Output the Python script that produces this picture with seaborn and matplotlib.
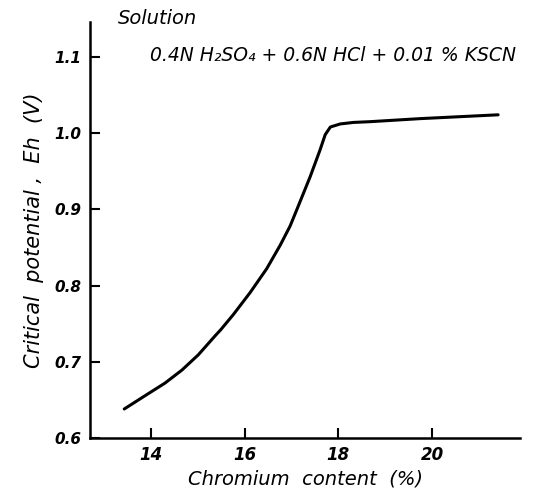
import numpy as np
import pandas as pd
import matplotlib
matplotlib.use("Agg")
import matplotlib.pyplot as plt
import seaborn as sns

# Values
chromium = [13.43, 13.94, 14.30, 14.66, 15.01, 15.37, 15.49, 15.76, 16.12,
            16.47, 16.76, 16.97, 17.11, 17.40, 17.61, 17.72, 17.83, 18.04,
            18.32, 18.68, 19.75, 21.41]
potential = [0.638, 0.658, 0.672, 0.689, 0.709, 0.734, 0.742, 0.762, 0.791,
             0.822, 0.853, 0.878, 0.899, 0.943, 0.978, 0.998, 1.008, 1.012,
             1.014, 1.015, 1.019, 1.024]
x_ticks = [14, 16, 18, 20]
y_ticks = [0.6, 0.7, 0.8, 0.9, 1.0, 1.1]
y_tick_labels = ['0.6', '0.7', '0.8', '0.9', '1.0', '1.1']

df = pd.DataFrame({'Cr': chromium, 'Eh': potential})

sns.set_style("ticks")
plt.rcParams['font.family'] = ['DejaVu Sans']
plt.rcParams['text.color'] = 'black'
plt.rcParams['axes.labelcolor'] = 'black'
plt.rcParams['xtick.color'] = 'black'
plt.rcParams['ytick.color'] = 'black'
plt.rcParams['xtick.direction'] = 'in'
plt.rcParams['ytick.direction'] = 'in'

fig = plt.figure(figsize=(5.39, 4.96), dpi=100)
ax = fig.add_axes([0.167, 0.117, 0.798, 0.839])

sns.lineplot(data=df, x='Cr', y='Eh', sort=False, estimator=None,
             color='black', linewidth=2.2, ax=ax)

ax.set_xlim(12.7, 21.88)
ax.set_ylim(0.6, 1.146)
ax.set_xticks(x_ticks)
ax.set_yticks(y_ticks)
ax.set_xticklabels([str(t) for t in x_ticks], fontsize=12, fontstyle='italic', fontweight='bold')
ax.set_yticklabels(y_tick_labels, fontsize=11, fontstyle='italic', fontweight='bold')
ax.tick_params(direction='in', length=7, width=1.5, color='black', pad=6)

sns.despine(ax=ax)
for side in ['left', 'bottom']:
    ax.spines[side].set_linewidth(1.8)
    ax.spines[side].set_color('black')

ax.set_xlabel('Chromium  content  (%)', fontsize=14, fontstyle='italic', labelpad=4)
ax.set_ylabel('Critical  potential ,  Eh  (V)', fontsize=15, fontstyle='italic', labelpad=8)

fig.text(0.218, 0.963, 'Solution', fontsize=14, fontstyle='italic', va='center')
fig.text(0.278, 0.889, '0.4N H₂SO₄ + 0.6N HCl + 0.01 % KSCN', fontsize=13.5,
         fontstyle='italic', va='center')

fig.savefig('out.png', dpi=100)
